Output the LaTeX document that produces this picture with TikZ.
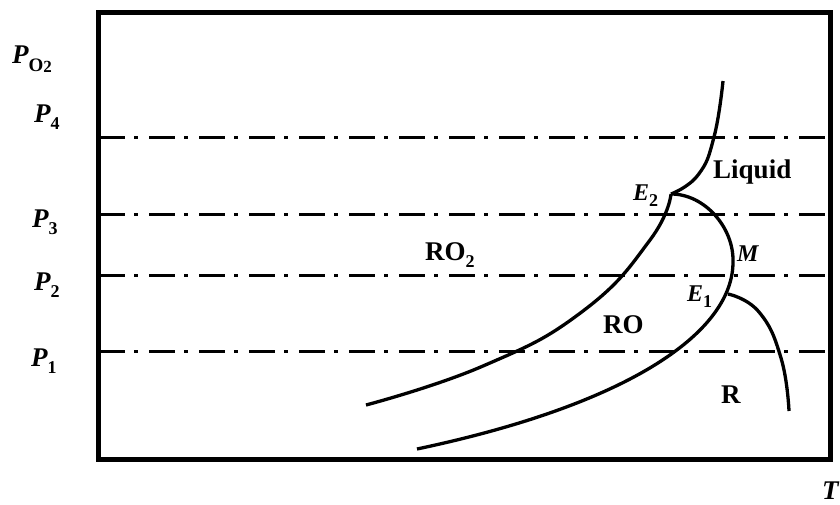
\documentclass[tikz,border=0pt]{standalone}
\usepackage{fontspec}
\setmainfont{Liberation Serif}
\newcommand{\mysubs}[1]{\raisebox{-0.28em}{\fontsize{18}{18}\selectfont\upshape #1}}
\begin{document}
\begin{tikzpicture}[x=1pt,y=-1pt,
  lab/.style={inner sep=0pt,anchor=base west,font=\fontsize{27}{30}\selectfont\bfseries},
  plab/.style={inner sep=0pt,anchor=base west,font=\fontsize{27}{30}\selectfont\bfseries\itshape},
  elab/.style={inner sep=0pt,anchor=base west,font=\fontsize{24}{26}\selectfont\bfseries\itshape},
  level/.style={line width=3pt,dash pattern=on 26pt off 9pt on 4pt off 11pt},
  curve/.style={line width=3.3pt,smooth,tension=0.8},
  frame/.style={line width=5pt}]
\useasboundingbox (0,0) rectangle (840,504);
% level lines
\coordinate (L4a) at (99,137); \coordinate (L4b) at (830,137);
\coordinate (L3a) at (99,214); \coordinate (L3b) at (830,214);
\coordinate (L2a) at (99,275); \coordinate (L2b) at (830,275);
\coordinate (L1a) at (99,351); \coordinate (L1b) at (830,351);
\draw[level] (L4a) -- (L4b);
\draw[level] (L3a) -- (L3b);
\draw[level] (L2a) -- (L2b);
\draw[level] (L1a) -- (L1b);
% frame
\coordinate (BL) at (98.5,12.5); \coordinate (TR) at (830,459.5);
\draw[frame] (BL) rectangle (TR);
% points
\coordinate (E2) at (671,194);
\coordinate (E1) at (728,294);
\coordinate (Mx) at (733,262);
\coordinate (Rend) at (417,449);
% curves
\draw[curve] plot coordinates {(366,405) (483,366) (583,311) (650,240) (E2)};
\draw[curve] plot coordinates {(E2) (698,175) (714,137) (723,81)};
\draw[line width=3.3pt] (E2) .. controls (705,194) and (734,228) .. (Mx)
   .. controls (733,330) and (635,403) .. (Rend);
\draw[curve] plot coordinates {(E1) (759,312) (781,358) (789,411)};
% labels
\node[plab] (PO2) at (12,63) {P\raisebox{-0.3em}{\fontsize{19}{19}\selectfont\upshape O\raisebox{-0.05em}{\fontsize{17}{17}\selectfont 2}}};
\node[plab] (P4) at (34,122) {P\mysubs{4}};
\node[plab] (P3) at (32,227) {P\mysubs{3}};
\node[plab] (P2) at (34,290) {P\mysubs{2}};
\node[plab] (P1) at (31,366) {P\mysubs{1}};
\node[plab] (T) at (822,499) {T};
\node[lab] (liq) at (713,178) {Liquid};
\node[lab] (ro2) at (425,260) {RO\mysubs{2}};
\node[lab] (ro) at (603,333) {RO};
\node[lab] (r) at (721,403) {R};
\node[elab] (e2l) at (633,200) {E\mysubs{2}};
\node[elab] (e1l) at (687,301) {E\mysubs{1}};
\node[elab] (ml) at (737,261) {M};
\end{tikzpicture}
\end{document}
